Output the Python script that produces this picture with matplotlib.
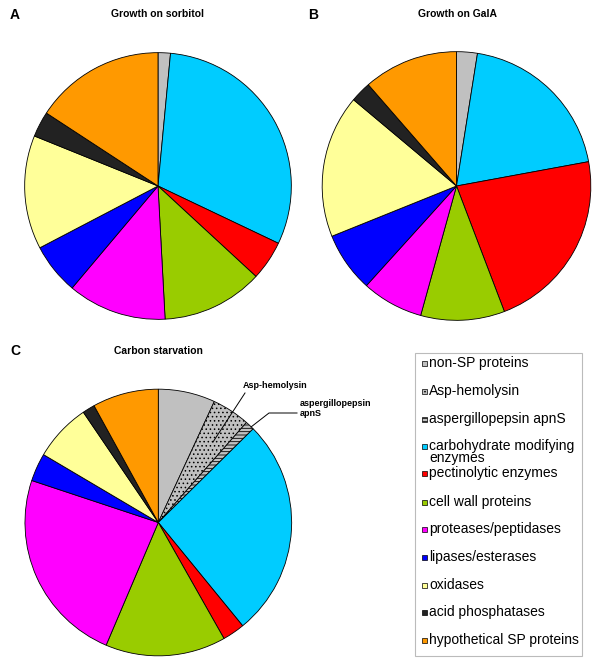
import matplotlib
matplotlib.use("Agg")
import matplotlib.pyplot as plt
from matplotlib.patches import Rectangle

plt.rcParams["font.family"] = ["Liberation Sans", "DejaVu Sans"]
plt.rcParams["hatch.linewidth"] = 0.6

# categories, in clockwise order from 12 o'clock
categories = [
    "non-SP proteins",
    "Asp-hemolysin",
    "aspergillopepsin apnS",
    "carbohydrate modifying\nenzymes",
    "pectinolytic enzymes",
    "cell wall proteins",
    "proteases/peptidases",
    "lipases/esterases",
    "oxidases",
    "acid phosphatases",
    "hypothetical SP proteins",
]
colors = ["#c0c0c0", "#c0c0c0", "#c0c0c0", "#00ccff", "#ff0000", "#99cc00",
          "#ff00ff", "#0000ff", "#ffff99", "#222222", "#ff9900"]
hatches = [None, "....", "-----", None, None, None, None, None, None, None, None]

# percentages (A and B have no Asp-hemolysin / apnS slices)
sorbitol = [1.5, 0, 0, 30.6, 4.8, 12.3, 12.0, 6.2, 13.8, 3.1, 15.8]
gala = [2.5, 0, 0, 19.6, 22.1, 10.1, 7.4, 7.2, 17.2, 2.5, 11.4]
starvation = [6.9, 4.6, 1.1, 26.5, 2.7, 14.6, 23.7, 3.4, 7.0, 1.5, 8.0]

W, H = 600, 666
fig = plt.figure(figsize=(W / 100, H / 100), dpi=100)


def fpx(x, y):
    # pixel position (from top-left) -> figure fraction
    return (x / W, 1 - y / H)


def draw_pie(cx, cy, r, values):
    ax = fig.add_axes([(cx - r) / W, (H - cy - r) / H, 2 * r / W, 2 * r / H])
    idx = [i for i, v in enumerate(values) if v > 0]
    wedges, _ = ax.pie(
        [values[i] for i in idx],
        colors=[colors[i] for i in idx],
        startangle=90,
        counterclock=False,
        radius=1,
        wedgeprops=dict(edgecolor="black", linewidth=0.6),
    )
    for w, i in zip(wedges, idx):
        if hatches[i]:
            w.set_hatch(hatches[i])
    ax.set_xlim(-1.005, 1.005)
    ax.set_ylim(-1.005, 1.005)
    ax.set_aspect("equal")
    ax.axis("off")
    return ax


draw_pie(158, 186, 134, sorbitol)
draw_pie(456.5, 186, 135, gala)
draw_pie(158.3, 522.5, 134, starvation)

# panel letters and titles
for letter, x, y in [("A", 15, 15), ("B", 313, 15), ("C", 15, 351)]:
    fig.text(*fpx(x, y), letter, fontsize=10, fontweight="bold",
             va="center", ha="center")
for title, x, y in [("Growth on sorbitol", 158, 14), ("Growth on GalA", 458, 14),
                    ("Carbon starvation", 158, 351)]:
    fig.text(*fpx(x, y), title, fontsize=7.5, fontweight="bold",
             va="center", ha="center")

# callouts in panel C
fig.add_artist(plt.Line2D([245 / W, 213 / W], [1 - 393 / H, 1 - 442 / H],
                          color="black", lw=0.7))
fig.text(*fpx(243, 385), "Asp-hemolysin", fontsize=6.5, fontweight="bold",
         va="center", ha="left")
fig.add_artist(plt.Line2D([297 / W, 269 / W, 251 / W],
                          [1 - 413 / H, 1 - 413 / H, 1 - 427 / H],
                          color="black", lw=0.7))
fig.text(*fpx(300, 403), "aspergillopepsin", fontsize=6.5, fontweight="bold",
         va="center", ha="left")
fig.text(*fpx(300, 413), "apnS", fontsize=6.5, fontweight="bold",
         va="center", ha="left")

# legend box
fig.add_artist(Rectangle(fpx(415, 656), 167 / W, 303 / H, transform=fig.transFigure,
                         facecolor="white", edgecolor="#bbbbbb", lw=0.8))
legend_y = [363, 391, 419, 446, 473, 502, 529, 557, 585, 612, 640]
for lab, y, c, h in zip(categories, legend_y, colors, hatches):
    fig.add_artist(Rectangle(fpx(422, y + 2.5), 5 / W, 5 / H,
                             transform=fig.transFigure, facecolor=c,
                             edgecolor="black", lw=0.5, hatch=h))
    if "\n" in lab:
        fig.text(*fpx(429, y - 7), lab, fontsize=10, va="top",
                 ha="left", linespacing=0.85)
    else:
        fig.text(*fpx(429, y), lab, fontsize=10, va="center", ha="left")

fig.savefig("out.png", dpi=100)
